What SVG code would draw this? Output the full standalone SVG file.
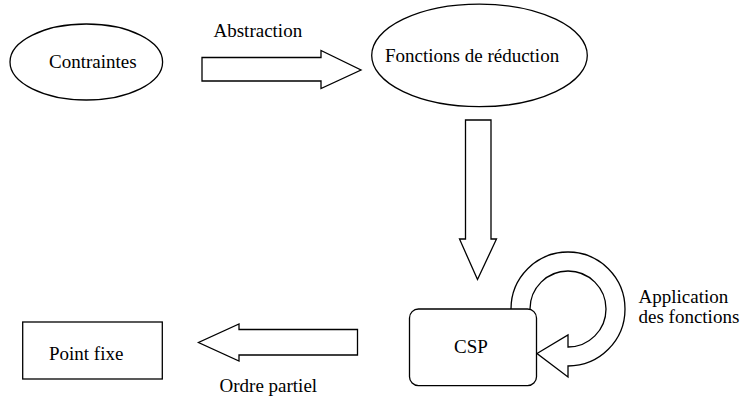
<svg xmlns="http://www.w3.org/2000/svg" width="744" height="398" viewBox="0 0 744 398">
<style>
.s{fill:#fff;stroke:#000;stroke-width:1.3}
.t{font-family:"Liberation Serif","Times New Roman",serif;font-size:19px;fill:#000}
</style>
<rect width="744" height="398" fill="#fff"/>
<g id="connectors">
<path class="s" d="M202,57.5 L321,57.5 L321,50.5 L361,70 L321,88.5 L321,81 L202,81 Z"/>
<text class="t" x="213.5" y="36.7">Abstraction</text>
<path class="s" d="M465.5,120 L491,120 L491,239 L496.5,239 L477.5,279.5 L459.5,239 L465.5,239 Z"/>
<path class="s" d="M357.5,329.5 L239,329.5 L239,324 L198.5,342.5 L239,361 L239,355 L357.5,355 Z"/>
<text class="t" x="219.5" y="391.7">Ordre partiel</text>
<path class="s" d="M511,309 A57,57 0 1 1 568,366 L568,377 L537,353.5 L568,335 L568,347 A38,38 0 1 0 530,309"/>
<text class="t" x="638.5" y="303.3">Application</text>
<text class="t" x="638.5" y="323.3">des fonctions</text>
</g>
<g id="contraintes">
<ellipse class="s" cx="86.3" cy="62" rx="76.3" ry="38"/>
<text class="t" x="49" y="68.3">Contraintes</text>
</g>
<g id="fonctions">
<ellipse class="s" cx="479.5" cy="55.4" rx="107.8" ry="51.3"/>
<text class="t" x="385" y="61.7">Fonctions de réduction</text>
</g>
<g id="csp">
<rect class="s" x="409.5" y="309" width="127" height="76.7" rx="9" ry="9"/>
<text class="t" x="454" y="353.3">CSP</text>
</g>
<g id="pointfixe">
<rect class="s" x="22.7" y="322" width="139.6" height="57"/>
<text class="t" x="49" y="360">Point fixe</text>
</g>
</svg>
